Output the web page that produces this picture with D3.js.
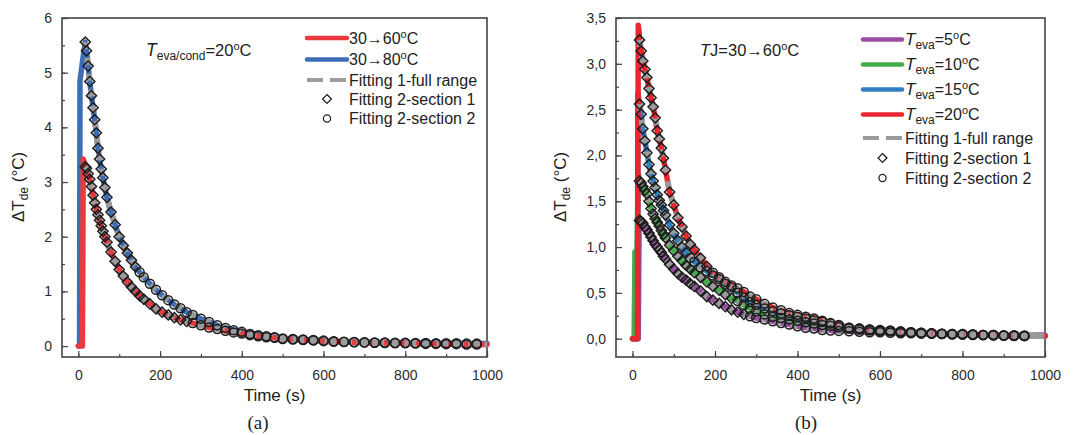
<!DOCTYPE html>
<html lang="en">
<head>
  <meta charset="UTF-8">
  <title>Delta T decay</title>
  <style>
    body { margin: 0; background: #fff; }
  </style>
</head>
<body>
  <svg></svg>
  <script src="https://cdn.jsdelivr.net/npm/d3@7"></script>
  <script>
    // ---------- panel (a) data ----------
    var timeA = [17, 20, 24, 28, 32, 36, 40, 44, 48, 52, 56, 60, 65, 70, 80, 90, 100, 110, 120, 130, 140, 150, 160, 175, 190, 205, 220, 235, 250, 265, 280, 300, 320, 340, 360, 380, 400, 420, 440, 460, 480, 500, 525, 550, 575, 600, 625, 650, 675, 700, 725, 750, 775, 800, 825, 850, 875, 900, 925, 950, 975, 1000]
    var blue80 = [5.56, 5.40, 5.12, 4.84, 4.58, 4.36, 4.14, 3.90, 3.62, 3.42, 3.24, 3.08, 2.90, 2.72, 2.45, 2.22, 2.00, 1.84, 1.70, 1.57, 1.45, 1.35, 1.26, 1.14, 1.03, 0.93, 0.84, 0.76, 0.69, 0.62, 0.57, 0.50, 0.44, 0.38, 0.33, 0.29, 0.26, 0.22, 0.20, 0.18, 0.16, 0.14, 0.13, 0.12, 0.11, 0.10, 0.09, 0.08, 0.075, 0.07, 0.065, 0.065, 0.06, 0.06, 0.055, 0.055, 0.05, 0.05, 0.05, 0.045, 0.045, 0.045]
    var red60 = [3.28, 3.25, 3.15, 3.05, 2.92, 2.76, 2.62, 2.50, 2.40, 2.30, 2.20, 2.10, 2.00, 1.90, 1.72, 1.55, 1.40, 1.28, 1.17, 1.08, 1.00, 0.92, 0.86, 0.77, 0.68, 0.62, 0.57, 0.52, 0.48, 0.45, 0.42, 0.38, 0.34, 0.31, 0.28, 0.25, 0.23, 0.20, 0.18, 0.16, 0.15, 0.13, 0.12, 0.11, 0.10, 0.09, 0.08, 0.075, 0.07, 0.065, 0.06, 0.055, 0.05, 0.05, 0.045, 0.04, 0.04, 0.035, 0.035, 0.03, 0.03, 0.03]
    // start of the pulse, before the decay
    var blue80RiseT = [0, 3, 4, 12]
    var blue80RiseV = [0, 0, 4.85, 5.3]
    var red60RiseT = [0, 10, 12, 15]
    var red60RiseV = [0, 0, 3.42, 3.35]

    // ---------- panel (b) data ----------
    var timeB = [17, 21, 25, 30, 35, 40, 45, 50, 55, 60, 65, 70, 75, 80, 90, 100, 110, 120, 130, 140, 150, 165, 180, 195, 210, 225, 240, 255, 270, 285, 300, 320, 340, 360, 380, 400, 420, 440, 460, 480, 500, 525, 550, 575, 600, 625, 650, 675, 700, 725, 750, 775, 800, 825, 850, 875, 900, 925, 950, 975, 1000]
    var eva5 = [1.29, 1.28, 1.26, 1.22, 1.19, 1.15, 1.11, 1.07, 1.03, 1.00, 0.97, 0.94, 0.90, 0.87, 0.81, 0.76, 0.71, 0.67, 0.64, 0.60, 0.57, 0.52, 0.46, 0.42, 0.385, 0.35, 0.315, 0.29, 0.265, 0.245, 0.225, 0.21, 0.19, 0.17, 0.155, 0.135, 0.12, 0.11, 0.095, 0.09, 0.085, 0.08, 0.075, 0.07, 0.07, 0.065, 0.06, 0.06, 0.055, 0.055, 0.05, 0.05, 0.045, 0.045, 0.04, 0.04, 0.035, 0.035, 0.035, 0.04, 0.04]
    var eva10 = [1.72, 1.70, 1.66, 1.62, 1.58, 1.50, 1.42, 1.36, 1.31, 1.27, 1.23, 1.18, 1.14, 1.10, 1.02, 0.96, 0.90, 0.85, 0.80, 0.76, 0.72, 0.67, 0.62, 0.57, 0.53, 0.48, 0.44, 0.41, 0.37, 0.33, 0.30, 0.265, 0.24, 0.225, 0.21, 0.195, 0.18, 0.165, 0.15, 0.14, 0.125, 0.11, 0.10, 0.09, 0.085, 0.08, 0.07, 0.065, 0.06, 0.055, 0.05, 0.045, 0.045, 0.04, 0.04, 0.035, 0.035, 0.03, 0.03, 0.03, 0.03]
    var eva15 = [2.56, 2.45, 2.29, 2.16, 2.03, 1.90, 1.80, 1.72, 1.65, 1.57, 1.51, 1.46, 1.40, 1.35, 1.24, 1.15, 1.07, 1.00, 0.94, 0.88, 0.84, 0.78, 0.74, 0.69, 0.65, 0.60, 0.56, 0.50, 0.45, 0.40, 0.37, 0.33, 0.30, 0.275, 0.255, 0.24, 0.22, 0.20, 0.185, 0.165, 0.145, 0.12, 0.11, 0.10, 0.09, 0.085, 0.075, 0.07, 0.065, 0.06, 0.055, 0.05, 0.05, 0.045, 0.04, 0.04, 0.035, 0.035, 0.03, 0.03, 0.03]
    var eva20 = [3.26, 3.14, 3.03, 2.94, 2.85, 2.73, 2.63, 2.53, 2.41, 2.27, 2.18, 2.08, 1.97, 1.84, 1.60, 1.46, 1.32, 1.22, 1.12, 1.03, 0.97, 0.88, 0.79, 0.72, 0.67, 0.62, 0.58, 0.55, 0.51, 0.46, 0.43, 0.38, 0.34, 0.31, 0.28, 0.26, 0.24, 0.22, 0.195, 0.17, 0.15, 0.12, 0.11, 0.10, 0.095, 0.09, 0.08, 0.07, 0.065, 0.06, 0.055, 0.05, 0.05, 0.045, 0.04, 0.04, 0.035, 0.035, 0.03, 0.03, 0.03]
    var eva5RiseT = [0, 14, 15, 16]
    var eva5RiseV = [0, 0, 0.64, 1.2]
    var eva10RiseT = [0, 4, 6, 11, 14]
    var eva10RiseV = [0, 0, 0.95, 0.95, 1.8]
    var eva15RiseT = [0, 12, 13, 15]
    var eva15RiseV = [0, 0, 2.68, 2.62]
    var eva20RiseT = [0, 12, 14, 16]
    var eva20RiseV = [0, 0, 3.42, 3.35]

    var yTicksA = [0, 1, 2, 3, 4, 5, 6]
    var yTicksB = [0, 0.5, 1, 1.5, 2, 2.5, 3, 3.5]
    var xTicks = [0, 200, 400, 600, 800, 1000]

    var width = 1078
    var height = 435
    var svg = d3.select("svg").attr("width", width).attr("height", height)

    var frameColor = "#444"
    var gray = "#9b9b9b"
    var fontFam = "Arial, Liberation Sans, Helvetica, sans-serif"

    function zip(ts, vs) { return ts.map((t, i) => [t, vs[i]]) }

    function drawPanel(p) {
      var x = d3.scaleLinear().domain([-40, 1000]).range([p.left, p.right])
      var y = d3.scaleLinear().domain(p.yDomain).range([357, 18])
      var g = svg.append("g")

      // axes (ticks inside)
      var minorX = d3.range(0, 1001, 100)
      var minorY = d3.range(0, p.yDomain[1] + 0.001, p.minorStep)
      g.append("g").attr("transform", `translate(0,357)`)
        .call(d3.axisBottom(x).tickValues(minorX).tickSize(-3).tickFormat(""))
      g.append("g").attr("transform", `translate(0,357)`)
        .call(d3.axisBottom(x).tickValues(xTicks).tickSize(-6).tickPadding(13).tickFormat(d3.format("d")))
      g.append("g").attr("transform", `translate(${p.left},0)`)
        .call(d3.axisLeft(y).tickValues(minorY).tickSize(-3).tickFormat(""))
      g.append("g").attr("transform", `translate(${p.left},0)`)
        .call(d3.axisLeft(y).tickValues(p.yTicks).tickSize(-6).tickPadding(10).tickFormat(p.fmt))
      g.selectAll(".domain").remove()
      g.selectAll("g").attr("font-family", fontFam)
      g.selectAll(".tick line").attr("stroke", frameColor).attr("stroke-width", 1.2)
      g.selectAll(".tick text").attr("font-size", 14).attr("fill", "#2b2b2b")
      g.append("rect").attr("x", p.left).attr("y", 18)
        .attr("width", p.right - p.left).attr("height", 357 - 18)
        .attr("fill", "none").attr("stroke", frameColor).attr("stroke-width", 1.6)

      var line = d3.line().x(d => x(d[0])).y(d => y(d[1]))
      var plot = g.append("g")

      // measured data, thick coloured lines
      p.series.forEach(s => {
        var pts = zip(s.riseT, s.riseV).concat(zip(p.time, s.values))
        plot.append("path").attr("d", line(pts)).attr("fill", "none")
          .attr("stroke", s.color).attr("stroke-width", 5.5)
          .attr("stroke-linejoin", "round").attr("stroke-linecap", "round")
      })
      // fitting 1 – gray dashes
      p.series.forEach(s => {
        plot.append("path").attr("d", line(zip(p.time, s.values))).attr("fill", "none")
          .attr("stroke", gray).attr("stroke-width", 6)
          .attr("stroke-dasharray", "7,9")
      })
      // fitting 2 – open markers
      var diamond = d3.symbol().type(d3.symbolDiamond2).size(66)
      p.series.forEach(s => {
        var pts = zip(p.time, s.values).filter(d => d[0] <= p.lastMarker)
        plot.selectAll(null).data(pts.filter(d => d[0] <= s.cut)).join("path")
          .attr("d", diamond)
          .attr("transform", d => `translate(${x(d[0])},${y(d[1])})`)
          .attr("fill", "none").attr("stroke", "#1e1e1e").attr("stroke-width", 1.5)
        plot.selectAll(null).data(pts.filter(d => d[0] > s.cut)).join("circle")
          .attr("cx", d => x(d[0])).attr("cy", d => y(d[1])).attr("r", 4.5)
          .attr("fill", "none").attr("stroke", "#1e1e1e").attr("stroke-width", 1.5)
      })

      // axis titles
      var cx = (p.left + p.right) / 2
      g.append("text").attr("x", cx).attr("y", 401).attr("text-anchor", "middle")
        .attr("font-family", fontFam)
        .attr("font-size", 17).attr("fill", "#222").text("Time (s)")
      g.append("text").attr("x", p.tagX).attr("y", 429).attr("text-anchor", "middle")
        .attr("font-family", "Liberation Serif, Times New Roman, serif")
        .attr("font-size", 19).attr("fill", "#222").text(p.tag)
      var yt = g.append("text")
        .attr("transform", `translate(${p.yTitleX},187) rotate(-90)`)
        .attr("font-family", fontFam)
        .attr("text-anchor", "middle").attr("font-size", 17).attr("fill", "#222")
      yt.append("tspan").text("ΔT")
      yt.append("tspan").attr("font-size", 12).attr("dy", 4).text("de")
      yt.append("tspan").attr("dy", -4).text(" (°C)")

      return { x: x, y: y, g: g }
    }

    drawPanel({
      left: 62, right: 487, yDomain: [-0.2, 6], yTicks: yTicksA, minorStep: 0.5,
      fmt: d3.format("d"), time: timeA, lastMarker: 990, tag: "(a)", tagX: 258, yTitleX: 24,
      series: [
        { color: "#3c6db6", values: blue80, riseT: blue80RiseT, riseV: blue80RiseV, cut: 140 },
        { color: "#ea3a40", values: red60, riseT: red60RiseT, riseV: red60RiseV, cut: 265 }
      ]
    })
    drawPanel({
      left: 616, right: 1045, yDomain: [-0.2, 3.5], yTicks: yTicksB, minorStep: 0.25,
      fmt: d => d3.format(".1f")(d).replace(".", ","), time: timeB, lastMarker: 950, tag: "(b)", tagX: 806, yTitleX: 566,
      series: [
        { color: "#9b4ea3", values: eva5, riseT: eva5RiseT, riseV: eva5RiseV, cut: 280 },
        { color: "#43ad4a", values: eva10, riseT: eva10RiseT, riseV: eva10RiseV, cut: 250 },
        { color: "#2f7fc2", values: eva15, riseT: eva15RiseT, riseV: eva15RiseV, cut: 130 },
        { color: "#e8262d", values: eva20, riseT: eva20RiseT, riseV: eva20RiseV, cut: 180 }
      ]
    })

    // ---------- annotations ----------
    function degC(t) {
      t.append("tspan").attr("font-size", 11).attr("dy", -6).text("o")
      t.append("tspan").attr("dy", 6).text("C")
    }
    var ann = svg.append("text").attr("x", 146).attr("y", 56).attr("font-family", fontFam)
      .attr("font-size", 16.5).attr("fill", "#222")
    ann.append("tspan").attr("font-style", "italic").attr("font-size", 17.5).text("T")
    ann.append("tspan").attr("font-size", 12).attr("dy", 4).text("eva/cond")
    ann.append("tspan").attr("dy", -4).text("=20")
    degC(ann)

    var annB = svg.append("text").attr("x", 700).attr("y", 56).attr("font-family", fontFam)
      .attr("font-size", 16.5).attr("fill", "#222")
    annB.append("tspan").attr("font-style", "italic").text("T")
    annB.append("tspan").text("J=30→60")
    degC(annB)

    // ---------- legends ----------
    function legendRows(l, rows) {
      var lg = svg.append("g").attr("font-family", fontFam).attr("font-size", 16).attr("fill", "#222")
      rows.forEach(r => {
        var yy = r.y
        if (r.kind === "line") {
          lg.append("line").attr("x1", l.x1).attr("x2", l.x2).attr("y1", yy).attr("y2", yy)
            .attr("stroke", r.color).attr("stroke-width", 4.5).attr("stroke-linecap", "round")
        } else if (r.kind === "dash") {
          lg.append("line").attr("x1", l.x1).attr("x2", l.x2).attr("y1", yy).attr("y2", yy)
            .attr("stroke", gray).attr("stroke-width", 4).attr("stroke-dasharray", "16,7")
        } else if (r.kind === "diamond") {
          lg.append("path").attr("d", d3.symbol().type(d3.symbolDiamond2).size(50)())
            .attr("transform", `translate(${(l.x1 + l.x2) / 2},${yy})`)
            .attr("fill", "none").attr("stroke", "#222").attr("stroke-width", 1.3)
        } else {
          lg.append("circle").attr("cx", (l.x1 + l.x2) / 2).attr("cy", yy).attr("r", 3.6)
            .attr("fill", "none").attr("stroke", "#222").attr("stroke-width", 1.3)
        }
        var t = lg.append("text").attr("x", l.tx).attr("y", yy + 5.5)
        if (r.eva) {
          t.append("tspan").attr("font-style", "italic").attr("font-size", 17).text("T")
          t.append("tspan").attr("font-size", 12).attr("dy", 4).text("eva")
          t.append("tspan").attr("dy", -4).text("=" + r.eva)
          degC(t)
        } else if (r.deg) {
          t.append("tspan").text(r.deg)
          degC(t)
        } else {
          t.text(r.label)
        }
      })
    }
    legendRows({ x1: 307, x2: 347, tx: 349 }, [
      { kind: "line", color: "#ea3a40", deg: "30→60", y: 38 },
      { kind: "line", color: "#3c6db6", deg: "30→80", y: 59.5 },
      { kind: "dash", label: "Fitting 1-full range", y: 80 },
      { kind: "diamond", label: "Fitting 2-section 1", y: 99 },
      { kind: "circle", label: "Fitting 2-section 2", y: 118.5 }
    ])
    legendRows({ x1: 863, x2: 902, tx: 905 }, [
      { kind: "line", color: "#9b4ea3", eva: "5", y: 39.5 },
      { kind: "line", color: "#43ad4a", eva: "10", y: 64.5 },
      { kind: "line", color: "#2f7fc2", eva: "15", y: 89.5 },
      { kind: "line", color: "#e8262d", eva: "20", y: 114.5 },
      { kind: "dash", label: "Fitting 1-full range", y: 138 },
      { kind: "diamond", label: "Fitting 2-section 1", y: 158 },
      { kind: "circle", label: "Fitting 2-section 2", y: 178 }
    ])
  </script>
</body>
</html>
